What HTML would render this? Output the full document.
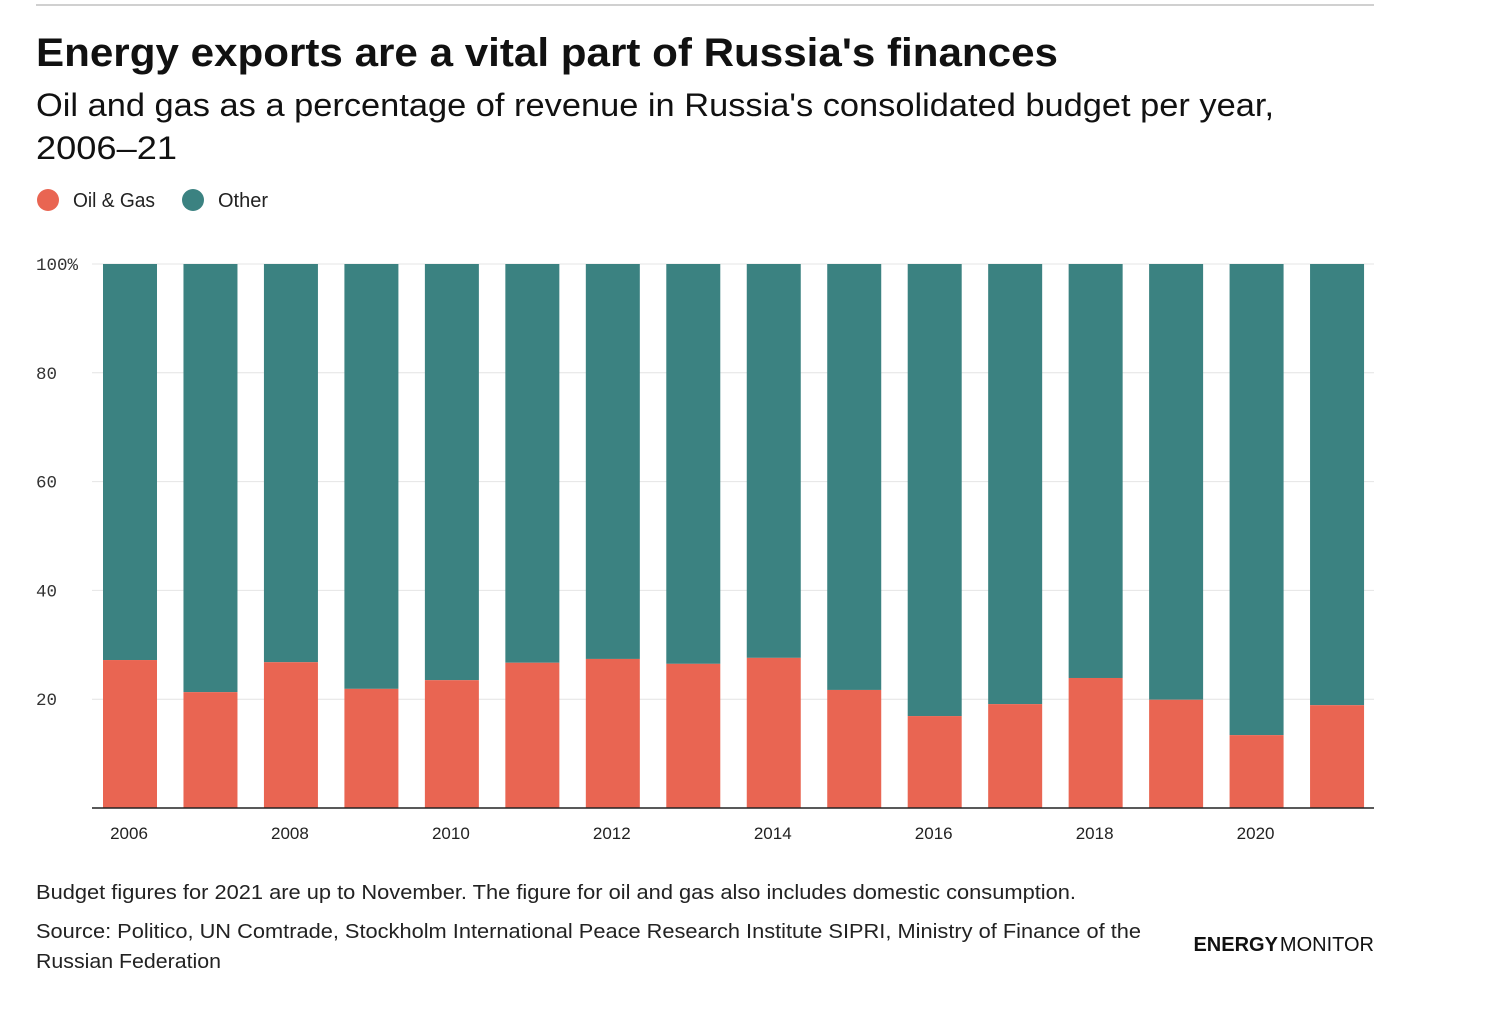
<!DOCTYPE html>
<html><head><meta charset="utf-8"><style>
body{margin:0;background:#fff;font-family:"Liberation Sans",sans-serif;color:#111;}
svg{position:absolute;left:0;top:0;}
</style></head><body>
<svg id="c" width="1512" height="1028">
<line x1="36" y1="5" x2="1374" y2="5" stroke="#d0d0d0" stroke-width="2"/>
<text x="36" y="66" font-size="40" font-weight="bold" fill="#111" textLength="1022" lengthAdjust="spacingAndGlyphs">Energy exports are a vital part of Russia's finances</text>
<text x="36" y="116" font-size="32" fill="#111" textLength="1238" lengthAdjust="spacingAndGlyphs">Oil and gas as a percentage of revenue in Russia's consolidated budget per year,</text>
<text x="36" y="159" font-size="32" fill="#111" textLength="141" lengthAdjust="spacingAndGlyphs">2006–21</text>
<g>
<circle cx="48" cy="200" r="11" fill="#e96552"/>
<text x="73" y="207" font-size="20" fill="#222" textLength="82" lengthAdjust="spacingAndGlyphs">Oil &amp; Gas</text>
<circle cx="193" cy="200" r="11" fill="#3b8281"/>
<text x="218" y="207" font-size="20" fill="#222">Other</text>
</g>
<g id="grid"></g><g id="bars"></g><g id="xl"></g>
<line x1="92" y1="808" x2="1374" y2="808" stroke="#222" stroke-width="1.5"/>
<text x="36" y="899" font-size="20" fill="#222" textLength="1040" lengthAdjust="spacingAndGlyphs">Budget figures for 2021 are up to November. The figure for oil and gas also includes domestic consumption.</text>
<text x="36" y="938" font-size="20" fill="#222" textLength="1105" lengthAdjust="spacingAndGlyphs">Source: Politico, UN Comtrade, Stockholm International Peace Research Institute SIPRI, Ministry of Finance of the</text>
<text x="36" y="968" font-size="20" fill="#222" textLength="185" lengthAdjust="spacingAndGlyphs">Russian Federation</text>
<text x="1374" y="951" font-size="20" text-anchor="end" fill="#111"><tspan font-weight="bold">ENERGY</tspan><tspan dx="2">MONITOR</tspan></text>
</svg>
<script>
const years=[2006,2007,2008,2009,2010,2011,2012,2013,2014,2015,2016,2017,2018,2019,2020,2021];
const oilGas=[27.2,21.3,26.8,21.9,23.5,26.7,27.4,26.5,27.6,21.7,16.9,19.1,23.9,19.9,13.4,18.9];
const yTicks=[20,40,60,80,100];
const yTickLabels=["20","40","60","80","100%"];
const NS="http://www.w3.org/2000/svg";
const y=v=>808-v*5.44;
const x=i=>103+i*80.47;
const bw=54;
function mk(t,a,p){const e=document.createElementNS(NS,t);for(const k in a)e.setAttribute(k,a[k]);p.appendChild(e);return e;}
const g=document.getElementById('grid');
yTicks.forEach((t,i)=>{
 const l=mk('line',{x1:92,x2:1374,y1:y(t),y2:y(t),stroke:'#e4e4e4','stroke-width':1},g);
 
 
 const tx=mk('text',{x:36,y:y(t)+6,'font-size':17.5,'font-family':'Liberation Mono, monospace',fill:'#333'},g);
 tx.textContent=yTickLabels[i];
 
 
});
const b=document.getElementById('bars'),xl=document.getElementById('xl');
years.forEach((yr,i)=>{
 const o=mk('rect',{x:x(i),y:y(100),width:bw,height:y(oilGas[i])-y(100),fill:'#3b8281'},b);
 
 
 const r=mk('rect',{x:x(i),y:y(oilGas[i]),width:bw,height:808-y(oilGas[i]),fill:'#e96552'},b);
 
 
 if(yr%2===0){
  const t=mk('text',{x:x(i)+bw/2-1,y:839,'font-size':17,'text-anchor':'middle',fill:'#222'},xl);
  t.textContent=yr;
  
  
 }
});
</script>
</body></html>
